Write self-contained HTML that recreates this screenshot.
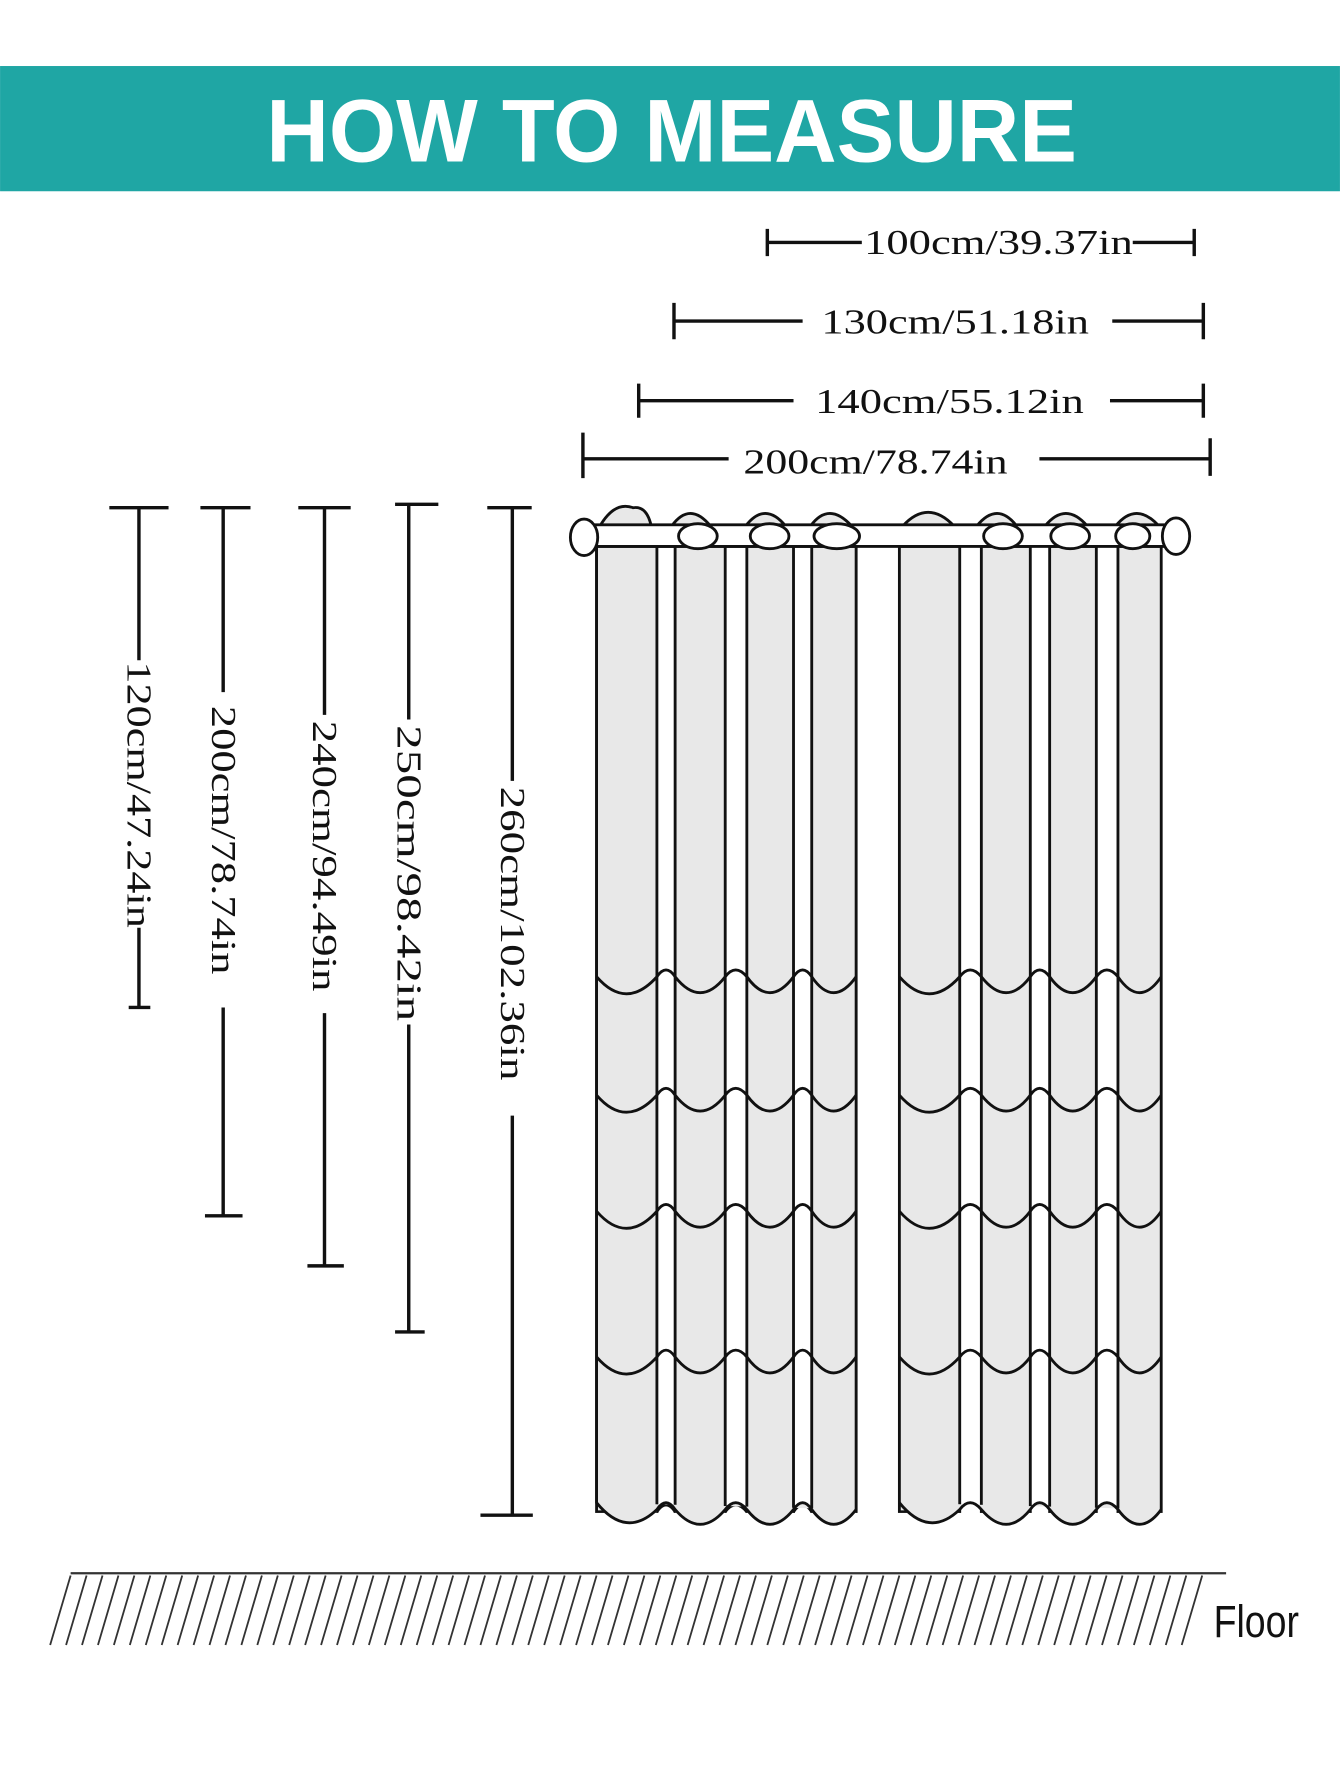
<!DOCTYPE html>
<html><head><meta charset="utf-8"><style>
html,body{margin:0;padding:0;background:#fff;}
svg{display:block;}
.d{font-family:"Liberation Serif",serif;font-size:31px;fill:#111;}
</style></head><body>
<svg width="1340" height="1785" viewBox="0 0 1177 1568" xmlns="http://www.w3.org/2000/svg">
<rect x="0" y="58" width="1177" height="110" fill="#1fa6a4"/>
<text x="590" y="142" text-anchor="middle" font-family="Liberation Sans,sans-serif" font-weight="bold" font-size="78" fill="#fff" textLength="712" lengthAdjust="spacingAndGlyphs">HOW TO MEASURE</text>
<g stroke="#111" stroke-width="3" fill="none">
<path d="M674,213H757M995,213H1049M674,201V225M1049,201V225"/>
<path d="M592,282H705M977,282H1057M592,266V298M1057,266V298"/>
<path d="M561,352H697M975,352H1057M561,337V367M1057,337V367"/>
<path d="M512,403H640M913,403H1063M512,380V420M1063,385V418"/>
<path d="M96,446H148M122,446V580M122,815V885M113,885H132"/>
<path d="M176,446H220M196,446V608M196,885V1068M180,1068H213"/>
<path d="M262,446H308M285,446V628M285,890V1112M270,1112H302"/>
<path d="M347,443H385M359,443V632M359,900V1170M347,1170H373"/>
<path d="M428,446H467M450,446V686M450,980V1331M422,1331H468"/>
</g>
<text class="d" x="877" y="223" text-anchor="middle" textLength="236" lengthAdjust="spacingAndGlyphs">100cm/39.37in</text>
<text class="d" x="839" y="293" text-anchor="middle" textLength="235" lengthAdjust="spacingAndGlyphs">130cm/51.18in</text>
<text class="d" x="834" y="363" text-anchor="middle" textLength="236" lengthAdjust="spacingAndGlyphs">140cm/55.12in</text>
<text class="d" x="769" y="416" text-anchor="middle" textLength="232" lengthAdjust="spacingAndGlyphs">200cm/78.74in</text>
<text class="d" transform="translate(112,698) rotate(90)" text-anchor="middle" textLength="234" lengthAdjust="spacingAndGlyphs">120cm/47.24in</text>
<text class="d" transform="translate(186,738) rotate(90)" text-anchor="middle" textLength="236" lengthAdjust="spacingAndGlyphs">200cm/78.74in</text>
<text class="d" transform="translate(275,752) rotate(90)" text-anchor="middle" textLength="238" lengthAdjust="spacingAndGlyphs">240cm/94.49in</text>
<text class="d" transform="translate(349,767) rotate(90)" text-anchor="middle" textLength="260" lengthAdjust="spacingAndGlyphs">250cm/98.42in</text>
<text class="d" transform="translate(440,820) rotate(90)" text-anchor="middle" textLength="258" lengthAdjust="spacingAndGlyphs">260cm/102.36in</text>
<!-- curtains -->
<g stroke="#111" stroke-width="2.5" fill="#e8e8e8">
<path d="M524,480V1320Q550,1350 577,1328Q585,1316 593,1328Q615,1350 637,1328Q646,1316 656,1328Q676,1350 697,1328Q705,1316 713,1328Q732,1350 752,1328V480Z" fill="#fff"/>
<rect x="524" y="480" width="53" height="848"/><rect x="593" y="480" width="44" height="848"/><rect x="656" y="480" width="41" height="848"/><rect x="713" y="480" width="39" height="848"/>
<path d="M524,1320Q550,1350 577,1328M593,1328Q615,1350 637,1328M656,1328Q676,1350 697,1328M713,1328Q732,1350 752,1328" fill="#e8e8e8" stroke="none"/>
<rect x="790" y="480" width="53" height="848"/><rect x="862" y="480" width="43" height="848"/><rect x="922" y="480" width="41" height="848"/><rect x="982" y="480" width="38" height="848"/>
</g>
<g fill="#fff" stroke="none">
<rect x="522" y="1329" width="232" height="30"/><rect x="788" y="1329" width="234" height="30"/>
</g>
<g stroke="#111" stroke-width="2.5" fill="#e8e8e8">
<path d="M524,1320Q550,1352 577,1326Q585,1314 593,1326Q615,1352 637,1326Q646,1314 656,1326Q676,1352 697,1326Q705,1314 713,1326Q732,1352 752,1326"/>
<path d="M790,1320Q816,1352 843,1326Q852,1314 862,1326Q884,1352 905,1326Q913,1314 922,1326Q942,1352 963,1326Q972,1314 982,1326Q1001,1352 1020,1326"/>
</g>
<defs>
<path id="wl" d="M524,0Q550,30 577,0Q585,-12 593,0Q615,28 637,0Q646,-12 656,0Q676,28 697,0Q705,-12 713,0Q732,28 752,0M790,0Q816,30 843,0Q852,-12 862,0Q884,28 905,0Q913,-12 922,0Q942,28 963,0Q972,-12 982,0Q1001,28 1020,0" fill="none" stroke="#111" stroke-width="2.5"/>
</defs>
<use href="#wl" transform="translate(0,858)"/>
<use href="#wl" transform="translate(0,962)"/>
<use href="#wl" transform="translate(0,1064)"/>
<use href="#wl" transform="translate(0,1192)"/>
<!-- rod -->
<g stroke="#111" stroke-width="2.5">
<g fill="#e8e8e8">
<path d="M527,462Q540,440 556,446Q568,444 572,462Z"/><path d="M590,462Q606,440 624,462Z"/><path d="M655,462Q672,440 690,462Z"/><path d="M712,462Q728,440 748,462Z"/>
<path d="M793,462Q815,438 838,462Z"/><path d="M858,462Q876,440 893,462Z"/><path d="M918,462Q936,440 955,462Z"/><path d="M980,462Q998,440 1018,462Z"/>
</g>
<rect x="512" y="461" width="522" height="19" fill="#fff"/>
<g fill="#fff">
<ellipse cx="613" cy="471" rx="17" ry="11"/><ellipse cx="676" cy="471" rx="17" ry="11"/><ellipse cx="735" cy="471" rx="20" ry="11"/>
<ellipse cx="881" cy="471" rx="17" ry="11"/><ellipse cx="940" cy="471" rx="17" ry="11"/><ellipse cx="995" cy="471" rx="15" ry="11"/>
<ellipse cx="513" cy="472" rx="12" ry="16"/><ellipse cx="1033" cy="471" rx="12" ry="16"/>
</g>
</g>
<!-- floor -->
<line x1="62" y1="1382" x2="1077" y2="1382" stroke="#333" stroke-width="2"/>
<g stroke="#333" stroke-width="1.6">
<path d="M62,1384L44,1445M76,1384L58,1445M90,1384L72,1445M104,1384L86,1445M118,1384L100,1445M132,1384L114,1445M146,1384L128,1445M160,1384L142,1445M174,1384L156,1445M188,1384L170,1445M202,1384L184,1445M216,1384L198,1445M230,1384L212,1445M244,1384L226,1445M258,1384L240,1445M272,1384L254,1445M286,1384L268,1445M300,1384L282,1445M314,1384L296,1445M328,1384L310,1445M342,1384L324,1445M356,1384L338,1445M370,1384L352,1445M384,1384L366,1445M398,1384L380,1445M412,1384L394,1445M426,1384L408,1445M440,1384L422,1445M454,1384L436,1445M468,1384L450,1445M482,1384L464,1445M496,1384L478,1445M510,1384L492,1445M524,1384L506,1445M538,1384L520,1445M552,1384L534,1445M566,1384L548,1445M580,1384L562,1445M594,1384L576,1445M608,1384L590,1445M622,1384L604,1445M636,1384L618,1445M650,1384L632,1445M664,1384L646,1445M678,1384L660,1445M692,1384L674,1445M706,1384L688,1445M720,1384L702,1445M734,1384L716,1445M748,1384L730,1445M762,1384L744,1445M776,1384L758,1445M790,1384L772,1445M804,1384L786,1445M818,1384L800,1445M832,1384L814,1445M846,1384L828,1445M860,1384L842,1445M874,1384L856,1445M888,1384L870,1445M902,1384L884,1445M916,1384L898,1445M930,1384L912,1445M944,1384L926,1445M958,1384L940,1445M972,1384L954,1445M986,1384L968,1445M1000,1384L982,1445M1014,1384L996,1445M1028,1384L1010,1445M1042,1384L1024,1445M1056,1384L1038,1445"/>
</g>
<text x="1066" y="1438" font-family="Liberation Sans,sans-serif" font-size="40" fill="#111" textLength="75" lengthAdjust="spacingAndGlyphs">Floor</text>
</svg>
</body></html>
